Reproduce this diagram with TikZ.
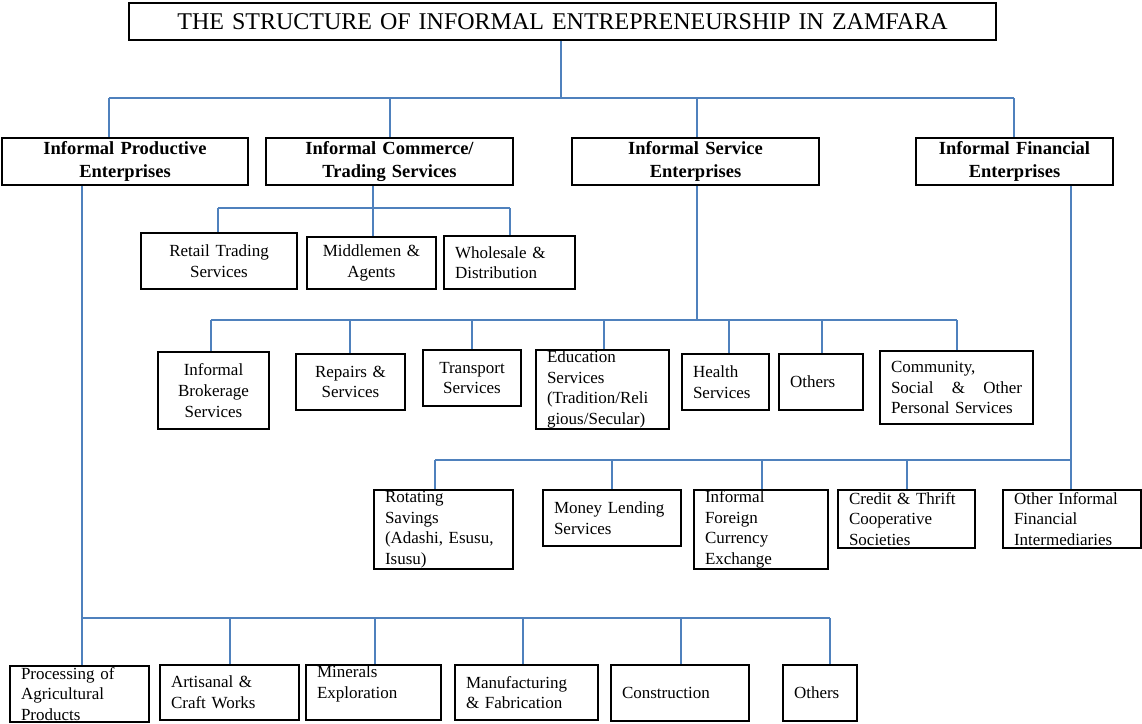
\documentclass[tikz,border=0pt]{standalone}
\usepackage{fontspec}
\setmainfont{Liberation Serif}
\definecolor{linkblue}{RGB}{79,129,189}
\tikzset{
  box/.style={draw=black, line width=1.6pt, rectangle, inner xsep=11pt, inner ysep=0pt,
    font=\fontsize{17}{20.6}\selectfont},
  headbox/.style={box, font=\bfseries\fontsize{18.5}{23.5}\selectfont},
  titlebox/.style={box, font=\fontsize{24}{28}\selectfont},
  conn/.style={draw=linkblue, line width=1.6pt}
}
\newcommand\bx[8]{%
  \pgfmathsetmacro\bxw{#4-#2}%
  \pgfmathsetmacro\bxh{#5-#3}%
  \pgfmathsetmacro\bxtw{#4-#2-22}%
  \pgfmathsetmacro\bxcx{(#2+#4)/2}%
  \pgfmathsetmacro\bxcy{(#3+#5)/2}%
  \node[#6, minimum width=\bxw pt, minimum height=\bxh pt, text width=\bxtw pt, align=#7]
    (#1) at (\bxcx,\bxcy) {#8};}
\begin{document}
\begin{tikzpicture}[x=1pt,y=-1pt]
\useasboundingbox (0,0) rectangle (1142,723);
% title and first level
\bx{title}{129}{3}{996}{40}{titlebox}{center}{THE STRUCTURE OF INFORMAL ENTREPRENEURSHIP IN ZAMFARA}
\bx{ipe}{2}{138}{248}{185}{headbox}{center}{Informal Productive\\Enterprises}
\bx{ict}{266}{138}{513}{185}{headbox}{center}{Informal Commerce/\\Trading Services}
\bx{ise}{572}{138}{819}{185}{headbox}{center}{Informal Service\\Enterprises}
\bx{ife}{916}{138}{1113}{185}{headbox}{center}{Informal Financial\\Enterprises}
% commerce children
\bx{rts}{141}{233}{297}{289}{box}{center}{Retail Trading\\Services}
\bx{mid}{307}{237}{436}{289}{box}{center}{Middlemen \&\\Agents}
\bx{whd}{444}{236}{575}{289}{box}{left}{Wholesale \&\\Distribution}
% service children
\bx{ibs}{158}{352}{269}{429}{box}{center}{Informal\\Brokerage\\Services}
\bx{rep}{296}{354}{405}{410}{box}{center}{Repairs \&\\Services}
\bx{trs}{423}{350}{521}{406}{box}{center}{Transport\\Services}
\bx{edu}{536}{350}{669}{429}{box}{left}{Education\\Services\\(Tradition/Reli\\gious/Secular)}
\bx{hea}{682}{354}{769}{410}{box}{left}{Health\\Services}
\bx{othA}{779}{354}{863}{410}{box}{left}{Others}
\bx{com}{880}{351}{1033}{424}{box}{left}{Community,\\Social \hfill \& \hfill Other\\Personal Services}
% financial children
\bx{rot}{374}{490}{513}{569}{box}{left}{Rotating\\Savings\\(Adashi, Esusu,\\Isusu)}
\bx{mon}{543}{490}{681}{546}{box}{left}{Money Lending\\Services}
\bx{ifc}{694}{490}{828}{569}{box}{left}{Informal\\Foreign\\Currency\\Exchange}
\bx{cre}{838}{490}{975}{548}{box}{left}{Credit \& Thrift\\Cooperative\\Societies}
\bx{ofi}{1003}{490}{1141}{548}{box}{left}{Other Informal\\Financial\\Intermediaries}
% productive children
\bx{pap}{10}{666}{149}{722}{box}{left}{Processing of\\Agricultural\\Products}
\bx{acw}{160}{665}{299}{720}{box}{left}{Artisanal \&\\Craft Works}
\bx{min}{306}{665}{441}{720}{box}{left}{Minerals\\Exploration\\\mbox{}}
\bx{mfb}{455}{665}{598}{720}{box}{left}{Manufacturing\\\& Fabrication}
\bx{con}{611}{665}{749}{721}{box}{left}{Construction}
\bx{othB}{783}{665}{857}{721}{box}{left}{Others}
% connectors: level 1
\coordinate (t0) at (561,98);
\draw[conn] (t0 |- title.south) -- (t0);
\foreach \x/\n in {109/ipe,390/ict,697/ise,1014/ife}{
  \coordinate (j\n) at (\x,98);
  \draw[conn] (j\n) -- (j\n |- \n.north);
}
\draw[conn] (jipe) -- (jife);
% commerce
\coordinate (pict) at (373,208);
\draw[conn] (pict |- ict.south) -- (pict);
\foreach \x/\n in {218/rts,373/mid,510/whd}{
  \coordinate (j\n) at (\x,208);
  \draw[conn] (j\n) -- (j\n |- \n.north);
}
\draw[conn] (jrts) -- (jwhd);
% service
\coordinate (pise) at (697,320);
\draw[conn] (pise |- ise.south) -- (pise);
\foreach \x/\n in {211/ibs,350/rep,472/trs,604/edu,729/hea,822/othA,957/com}{
  \coordinate (j\n) at (\x,320);
  \draw[conn] (j\n) -- (j\n |- \n.north);
}
\draw[conn] (jibs) -- (jcom);
% financial
\coordinate (pife) at (1071,460);
\draw[conn] (pife |- ife.south) -- (pife);
\foreach \x/\n in {435/rot,612/mon,762/ifc,907/cre,1071/ofi}{
  \coordinate (j\n) at (\x,460);
  \draw[conn] (j\n) -- (j\n |- \n.north);
}
\draw[conn] (jrot) -- (jofi);
% productive
\coordinate (pipe) at (82,618);
\draw[conn] (pipe |- ipe.south) -- (pipe);
\foreach \x/\n in {82/pap,230/acw,375/min,523/mfb,681/con,830/othB}{
  \coordinate (j\n) at (\x,618);
  \draw[conn] (j\n) -- (j\n |- \n.north);
}
\draw[conn] (jpap) -- (jothB);
\end{tikzpicture}
\end{document}
